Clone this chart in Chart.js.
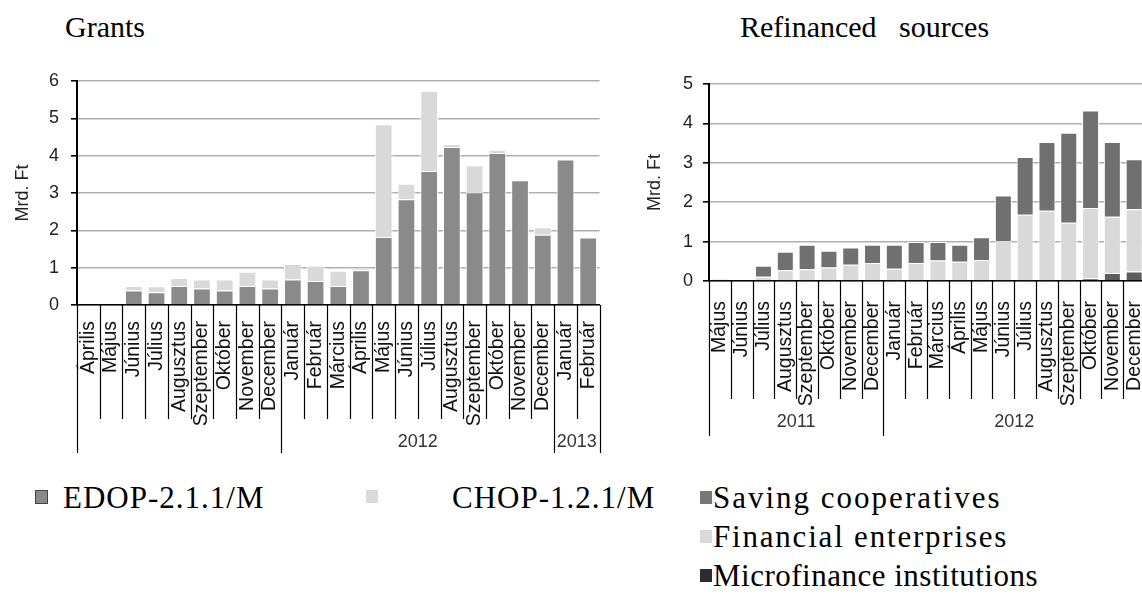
<!DOCTYPE html>
<html lang="hu">
<head>
<meta charset="UTF-8">
<title>Grants / Refinanced sources</title>
<script src="https://cdn.jsdelivr.net/npm/chart.js"></script>
<style>
    body { margin: 0; width: 1142px; height: 598px; overflow: hidden; background: #fff; position: relative; font-family: 'Liberation Serif', serif; }
    canvas { position: absolute; top: 0; }
    #grantsChart { left: 0; }
    #refChart { left: 640px; }
    .title { position: absolute; top: 10px; font-size: 30px; color: #000; white-space: nowrap; }
    .leg { position: absolute; font-size: 31px; letter-spacing: 1px; color: #000; white-space: nowrap; line-height: 34px; }
    .box { position: absolute; width: 12px; height: 13px; }
</style>
</head>
<body>
    <div class="title" style="left:65px">Grants</div>
    <div class="title" style="left:740px; word-spacing:15px">Refinanced sources</div>

    <canvas id="grantsChart" width="620" height="470"></canvas>
    <canvas id="refChart" width="530" height="470"></canvas>

    <div class="box" style="left:35px; top:490px; background:#8a8a8a; border:1px solid #444; width:11px; height:12px"></div>
    <div class="leg" style="left:63px; top:481px">EDOP-2.1.1/M</div>
    <div class="box" style="left:366px; top:490px; background:#d9d9d9"></div>
    <div class="leg" style="left:452px; top:481px">CHOP-1.2.1/M</div>

    <div class="box" style="left:700px; top:491px; background:#777"></div>
    <div class="leg" style="left:713px; top:481px; letter-spacing:2px">Saving cooperatives</div>
    <div class="box" style="left:700px; top:530px; background:#d9d9d9"></div>
    <div class="leg" style="left:713px; top:520px; letter-spacing:1.8px">Financial enterprises</div>
    <div class="box" style="left:700px; top:569px; background:#2d2d2d"></div>
    <div class="leg" style="left:713px; top:559px; letter-spacing:0.5px">Microfinance institutions</div>

<script>
// Grants (left panel)
const grantMonths = ['Április','Május','Június','Július','Augusztus','Szeptember','Október','November','December',
    'Január','Február','Március','Április','Május','Június','Július','Augusztus','Szeptember','Október','November','December',
    'Január','Február'];
const grantYears = ['', '2012', '2013'];
const grantYearStart = [0, 9, 21];
const edop = [0, 0, 0.39, 0.34, 0.51, 0.44, 0.39, 0.51, 0.44, 0.68, 0.64, 0.51, 0.93, 1.82, 2.83, 3.59, 4.23, 3.02, 4.07, 3.34, 1.88, 3.90, 1.81];
const chop = [0, 0, 0.12, 0.16, 0.21, 0.24, 0.29, 0.38, 0.24, 0.42, 0.42, 0.41, 0.05, 3.02, 0.42, 2.15, 0.08, 0.72, 0.09, 0, 0.20, 0, 0];

// Refinanced sources (right panel, cut off at the right edge)
const refMonths = ['Május','Június','Július','Augusztus','Szeptember','Október','November','December',
    'Január','Február','Március','Április','Május','Június','Július','Augusztus','Szeptember','Október','November','December'];
const refYears = ['2011', '2012'];
const refYearStart = [0, 8];
const micro = [0, 0, 0, 0, 0, 0, 0, 0, 0, 0, 0, 0, 0, 0, 0, 0, 0, 0.07, 0.20, 0.24];
const financial = [0, 0, 0.11, 0.27, 0.30, 0.34, 0.41, 0.46, 0.31, 0.46, 0.52, 0.49, 0.53, 1.01, 1.68, 1.78, 1.48, 1.78, 1.43, 1.58];
const saving = [0.04, 0.03, 0.28, 0.47, 0.62, 0.43, 0.44, 0.46, 0.61, 0.53, 0.47, 0.43, 0.58, 1.16, 1.47, 1.75, 2.28, 2.48, 1.90, 1.27];

// draws the table-like separators under the x axis and the year labels
function separators(cellBottom, groupBottom, yearY, years, starts) {
    return {
        id: 'separators',
        afterDraw(chart) {
            const ctx = chart.ctx;
            const xs = chart.scales.x;
            const n = chart.data.labels.length;
            const w = xs.width / n;
            const top = chart.scales.y.getPixelForValue(0);
            ctx.save();
            ctx.strokeStyle = '#000';
            ctx.lineWidth = 1.2;
            for (let i = 0; i <= n; i++) {
                const x = Math.round(xs.left + i * w) + 0.5;
                const isGroup = starts.includes(i) || i === n;
                ctx.beginPath();
                ctx.moveTo(x, top);
                ctx.lineTo(x, isGroup ? groupBottom : cellBottom);
                ctx.stroke();
            }
            ctx.fillStyle = '#333';
            ctx.font = '18px "Liberation Sans"';
            ctx.textAlign = 'center';
            ctx.textBaseline = 'middle';
            years.forEach((y, k) => {
                const a = starts[k];
                const b = k + 1 < starts.length ? starts[k + 1] : n;
                ctx.fillText(y, xs.left + (a + b) / 2 * w, yearY);
            });
            ctx.restore();
        }
    };
}

function makeOptions(o) {
    return {
        responsive: false,
        animation: false,
        devicePixelRatio: 1,
        layout: { padding: o.padding },
        plugins: { legend: { display: false }, tooltip: { enabled: false } },
        scales: {
            x: {
                stacked: true,
                grid: { display: false },
                border: { color: '#000', width: 1.5 },
                ticks: {
                    autoSkip: false, maxRotation: 90, minRotation: 90, padding: o.xPad,
                    color: '#111', font: { family: 'Liberation Sans', size: 19.5 }
                },
                afterFit: s => { s.height = o.xHeight; }
            },
            y: {
                stacked: true,
                min: 0, max: o.yMax,
                ticks: { stepSize: 1, padding: o.yPad, color: '#222', font: { family: 'Liberation Sans', size: 18 } },
                grid: { color: '#b0b0b0', lineWidth: 1.6, tickColor: '#000', tickLength: 6 },
                border: { color: '#000', width: 2 },
                title: { display: true, text: 'Mrd. Ft', color: '#222', font: { family: 'Liberation Sans', size: 18 }, padding: { top: o.titlePad, bottom: 0 } },
                afterFit: s => { s.width = o.yWidth; }
            }
        }
    };
}

function bar(label, data, color) {
    return { label, data, backgroundColor: color, borderColor: '#fff', borderWidth: 1,
        barPercentage: 0.78, categoryPercentage: 1 };
}

new Chart(document.getElementById('grantsChart'), {
    type: 'bar',
    data: {
        labels: grantMonths,
        datasets: [bar('EDOP-2.1.1/M', edop, '#8a8a8a'), bar('CHOP-1.2.1/M', chop, '#d9d9d9')]
    },
    options: makeOptions({ padding: { top: 81, right: 18, bottom: 15, left: 0 }, xPad: 8, xHeight: 150,
        yMax: 6, yPad: 12, yWidth: 77, titlePad: 12 }),
    plugins: [separators(419, 453, 442, grantYears, grantYearStart)]
});

new Chart(document.getElementById('refChart'), {
    type: 'bar',
    data: {
        labels: refMonths,
        datasets: [bar('Microfinance institutions', micro, '#5c5c5c'),
                   bar('Financial enterprises', financial, '#d9d9d9'),
                   bar('Saving cooperatives', saving, '#707070')]
    },
    options: makeOptions({ padding: { top: 84, right: 17, bottom: 34, left: 0 }, xPad: 12, xHeight: 155,
        yMax: 5, yPad: 10, yWidth: 69, titlePad: 4 }),
    plugins: [separators(399, 436, 422, refYears, refYearStart)]
});
</script>
</body>
</html>
